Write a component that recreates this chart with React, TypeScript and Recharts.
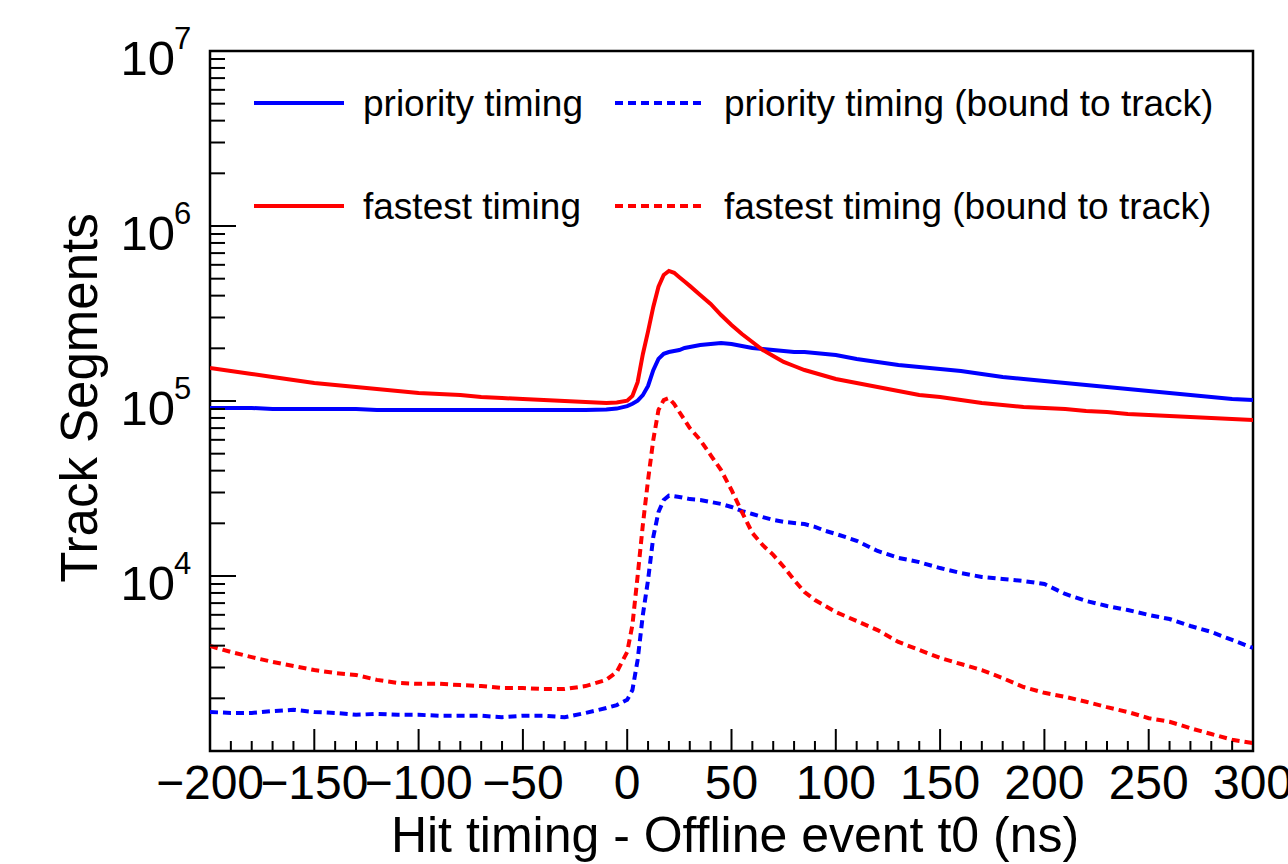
import React from "react";
import { LineChart, Line, XAxis, YAxis, ReferenceArea } from "recharts";

const FONT = '"Liberation Sans", Arial, Helvetica, sans-serif';

// plot frame (px)
const W = 1288;
const H = 864;
const PLOT_LEFT = 210;
const PLOT_TOP = 51;
const PLOT_RIGHT = 1253;
const PLOT_BOTTOM = 751;

// sample positions (ns)
const times = [
  -200, -190, -180, -170, -160, -150, -140, -130, -120, -110, -100, -90, -80, -70, -60, -50, -40, -30, -20, -10,
  -5, 0, 2.5, 5, 7.5, 10, 12.5, 15, 17.5, 20, 22.5, 25, 27.5, 30,
  35, 40, 45, 50, 55, 60, 65, 70, 75, 80, 85, 90, 95, 100,
  110, 120, 130, 140, 150, 160, 170, 180, 190, 200, 210, 220, 230, 240, 250, 260, 270, 280, 290, 300,
];

const priority = [
  91200, 91200, 91200, 90000, 90000, 90000, 90000, 90000, 88900, 88900, 88900, 88900, 88900, 88900, 88900, 88900, 88900, 88900, 88900, 89500,
  90500, 93500, 96500, 100500, 108000, 122000, 150000, 174000, 186000, 190500, 193100, 195600, 200900, 203500,
  208900, 211700, 214500, 211700, 206200, 200900, 198200, 195600, 193100, 190500, 190500, 188100, 185600, 183200,
  173800, 167100, 160600, 156400, 152400, 148400, 142700, 137200, 133600, 130100, 126700, 123400, 120200, 117100, 114100, 111100, 108200, 105400, 102700, 101300,
];

const fastest = [
  154400, 148400, 142700, 137200, 131800, 126700, 123400, 120200, 117100, 114100, 111100, 109600, 108200, 105400, 104000, 102700, 101300, 100000, 98700, 97400,
  98000, 100500, 107000, 128000, 185000, 250000, 345000, 450000, 525000, 553400, 540000, 510000, 482000, 455000,
  403400, 358400, 310000, 271900, 241400, 217400, 195600, 180800, 167100, 158500, 150300, 144500, 139000, 133600,
  126700, 120200, 114100, 108200, 105400, 101300, 97400, 94900, 92400, 91200, 90000, 87700, 86500, 84300, 83200, 82100, 81000, 80000, 78900, 77900,
];

const priorityBound = [
  1670, 1650, 1650, 1690, 1720, 1670, 1650, 1610, 1630, 1610, 1610, 1590, 1590, 1590, 1560, 1590, 1590, 1560, 1650, 1760,
  1830, 1960, 2230, 3310, 5990, 9490, 16700, 23200, 27200, 28800, 28600, 28300, 27900, 27500,
  27200, 26500, 25800, 24800, 23500, 22600, 21700, 20900, 20400, 20100, 19800, 19100, 18100, 17400,
  15900, 13900, 12700, 12000, 11100, 10400, 9870, 9610, 9360, 9000, 7890, 7200, 6740, 6390, 5990, 5680, 5180, 4790, 4310, 3880,
];

const fastestBound = [
  3980, 3680, 3440, 3230, 3060, 2900, 2790, 2720, 2550, 2450, 2420, 2420, 2380, 2350, 2290, 2290, 2260, 2260, 2350, 2550,
  2830, 3680, 5250, 10000, 19600, 35400, 59900, 88900, 101300, 104000, 96100, 86500, 77900, 70100,
  59900, 49100, 40300, 31000, 23200, 17600, 15000, 13200, 11300, 9490, 8100, 7290, 6740, 6230,
  5530, 4910, 4200, 3780, 3400, 3140, 2900, 2610, 2320, 2150, 2040, 1910, 1780, 1670, 1540, 1470, 1350, 1250, 1160, 1110,
];

const xMajor = [-200, -150, -100, -50, 0, 50, 100, 150, 200, 250, 300];
const xTicks = Array.from({ length: 51 }, (_, i) => -200 + i * 10);
const yTicks: number[] = [];
for (let e = 3; e < 7; e++) for (let m = 1; m < 10; m++) yTicks.push(m * Math.pow(10, e));
yTicks.push(1e7);
const yLabelled = [1e4, 1e5, 1e6, 1e7];

const legendItems = [
  { label: "priority timing", color: "#0000ff", dashed: false, col: 0, row: 0 },
  { label: "priority timing (bound to track)", color: "#0000ff", dashed: true, col: 1, row: 0 },
  { label: "fastest timing", color: "#ff0000", dashed: false, col: 0, row: 1 },
  { label: "fastest timing (bound to track)", color: "#ff0000", dashed: true, col: 1, row: 1 },
];

const rows = times.map((t, i) => ({
  t,
  priority: priority[i],
  fastest: fastest[i],
  priorityBound: priorityBound[i],
  fastestBound: fastestBound[i],
}));

const DASH = "8 5";

function fmtX(v: number) {
  return v < 0 ? "\u2212" + Math.abs(v) : String(v);
}

function XTick({ x, payload }: any) {
  const v = payload.value;
  const major = xMajor.includes(v);
  return (
    <g>
      <line x1={x} x2={x} y1={PLOT_BOTTOM} y2={PLOT_BOTTOM - (major ? 22 : 10)} stroke="#000" strokeWidth={2} />
      {major && (
        <text x={x} y={799} textAnchor="middle" fontSize={48} fontFamily={FONT} fill="#000">
          {fmtX(v)}
        </text>
      )}
    </g>
  );
}

function YTick({ y, payload }: any) {
  const v = payload.value;
  const exp = Math.log10(v);
  const major = Math.abs(exp - Math.round(exp)) < 1e-6;
  const showLabel = major && yLabelled.some((l) => Math.abs(l - v) < 1e-3);
  return (
    <g>
      <line x1={PLOT_LEFT} x2={PLOT_LEFT + (major ? 26 : 15)} y1={y} y2={y} stroke="#000" strokeWidth={2} />
      {showLabel && (
        <g fontFamily={FONT} fill="#000">
          <text x={175} y={y + 24} textAnchor="end" fontSize={49}>10</text>
          <text x={174} y={y - 2} textAnchor="start" fontSize={31}>{Math.round(exp)}</text>
        </g>
      )}
    </g>
  );
}

function Overlay() {
  return (
    <svg width={W} height={H} style={{ position: "absolute", left: 0, top: 0, pointerEvents: "none" }}>
      <text x={735} y={852} textAnchor="middle" fontSize={50} fontFamily={FONT} fill="#000">
        Hit timing - Offline event t0 (ns)
      </text>
      <text transform="translate(97,398) rotate(-90)" textAnchor="middle" fontSize={51} fontFamily={FONT} fill="#000">
        Track Segments
      </text>
      {legendItems.map((it) => {
        const x0 = it.col === 0 ? 254 : 615;
        const ly = 103 + it.row * 103;
        return (
          <g key={it.label}>
            <line x1={x0} x2={x0 + 90} y1={ly} y2={ly} stroke={it.color} strokeWidth={4} strokeDasharray={it.dashed ? DASH : undefined} />
            <text x={x0 + 109} y={ly + 13} fontSize={37} fontFamily={FONT} fill="#000">
              {it.label}
            </text>
          </g>
        );
      })}
    </svg>
  );
}

export default function App() {
  return (
    <div style={{ position: "absolute", left: 0, top: 0, width: W, height: H, background: "#fff" }}>
      <LineChart
        width={W}
        height={H}
        data={rows}
        margin={{ top: PLOT_TOP, right: W - PLOT_RIGHT, bottom: 0, left: 0 }}
      >
        <XAxis
          dataKey="t"
          type="number"
          domain={[-200, 300]}
          ticks={xTicks}
          interval={0}
          height={H - PLOT_BOTTOM}
          axisLine={false}
          tickLine={false}
          tick={<XTick />}
          allowDataOverflow
        />
        <YAxis
          scale="log"
          domain={[1000, 10000000]}
          ticks={yTicks}
          interval={0}
          width={PLOT_LEFT}
          axisLine={false}
          tickLine={false}
          tick={<YTick />}
          allowDataOverflow
        />
        <Line type="linear" dataKey="priority" stroke="#0000ff" strokeWidth={4} dot={false} isAnimationActive={false} />
        <Line type="linear" dataKey="fastest" stroke="#ff0000" strokeWidth={4} dot={false} isAnimationActive={false} />
        <Line type="linear" dataKey="priorityBound" stroke="#0000ff" strokeWidth={4} strokeDasharray={DASH} dot={false} isAnimationActive={false} />
        <Line type="linear" dataKey="fastestBound" stroke="#ff0000" strokeWidth={4} strokeDasharray={DASH} dot={false} isAnimationActive={false} />
        <ReferenceArea x1={-200} x2={300} y1={1000} y2={10000000} fill="none" stroke="#000" strokeWidth={2.5} ifOverflow="visible" />
      </LineChart>
      <Overlay />
    </div>
  );
}
